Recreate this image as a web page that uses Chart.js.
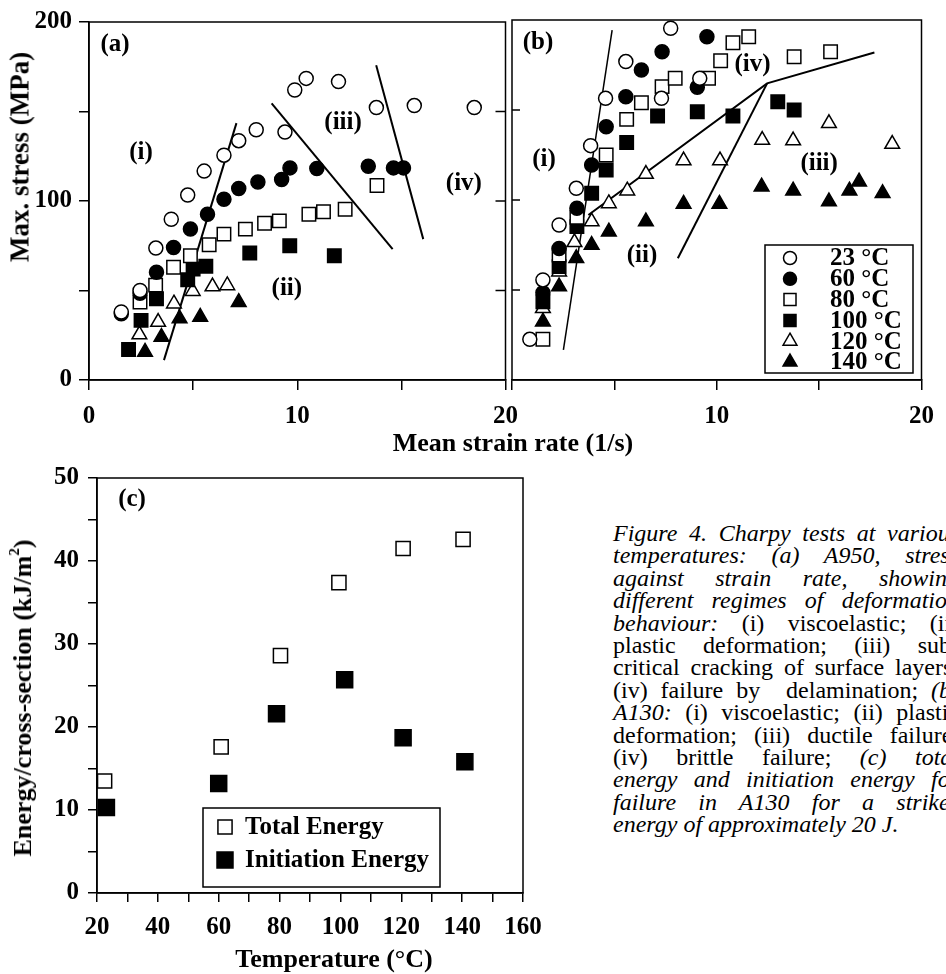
<!DOCTYPE html>
<html><head><meta charset="utf-8">
<script src="https://cdn.jsdelivr.net/npm/chart.js@4.4.0/dist/chart.umd.min.js"></script>
<style>
html,body{margin:0;padding:0;background:#fff;width:946px;height:974px;overflow:hidden;position:relative}
canvas{position:absolute}
.t{position:absolute;font:bold 26px "Liberation Serif","Times New Roman",serif;color:#000;white-space:nowrap;line-height:1}
.rot{transform:translate(-50%,-50%) rotate(-90deg)}
.hc{transform:translate(-50%,-50%)}
.cap{position:absolute;left:613px;top:522px;width:346px;font:24px/22.4px "Liberation Serif","Times New Roman",serif;color:#000}
.cap div{text-align:justify;text-align-last:justify}
.cap div.last{text-align-last:left}
sup{font-size:15px;line-height:0;position:relative;top:-2px}
</style></head>
<body>
<canvas id="ca" width="530" height="430" style="left:0;top:0"></canvas>
<canvas id="cb" width="446" height="430" style="left:500px;top:0"></canvas>
<canvas id="cc" width="560" height="534" style="left:0;top:440px"></canvas>

<div class="t rot" style="left:20px;top:157px;font-size:27px">Max. stress (MPa)</div>
<div class="t hc" style="left:513px;top:443px">Mean strain rate (1/s)</div>
<div class="t rot" style="left:23px;top:698px">Energy/cross-section (kJ/m<sup>2</sup>)</div>
<div class="t hc" style="left:334px;top:959px">Temperature (°C)</div>

<div class="cap">
<div><i>Figure 4. Charpy tests at various</i></div>
<div><i>temperatures: (a) A950, stress</i></div>
<div><i>against strain rate, showing</i></div>
<div><i>different regimes of deformation</i></div>
<div><i>behaviour:</i> (i) viscoelastic; (ii)</div>
<div>plastic deformation; (iii) sub-</div>
<div>critical cracking of surface layers;</div>
<div>(iv) failure by &nbsp;delamination; <i>(b)</i></div>
<div><i>A130:</i> (i) viscoelastic; (ii) plastic</div>
<div>deformation; (iii) ductile failure;</div>
<div>(iv) brittle failure; <i>(c) total</i></div>
<div><i>energy and initiation energy for</i></div>
<div><i>failure in A130 for a striker</i></div>
<div class="last"><i>energy of approximately 20 J.</i></div>
</div>

<script>
const FONT = "'Liberation Serif','Times New Roman',serif";

// ---------- Panel (a): A950, max stress vs mean strain rate ----------
const a23x = [1.55, 2.45, 3.21, 3.95, 4.74, 5.53, 6.48, 7.19, 8.03, 9.41, 9.88, 10.43, 11.98, 13.80, 15.62, 18.50];
const a23y = [38, 50, 73.7, 89.8, 103.3, 116.7, 125.6, 133.7, 139.8, 138.5, 162, 168.5, 166.7, 152.2, 153.3, 152.2];
const a60x = [1.55, 2.45, 3.24, 4.06, 4.87, 5.69, 6.48, 7.19, 8.11, 9.25, 9.65, 10.94, 13.41, 14.62, 15.10];
const a60y = [37, 48.5, 60.2, 74, 84.3, 92.6, 101, 107, 110.6, 112, 118.5, 118.1, 119.4, 118.5, 118.5];
const a80x = [2.45, 3.20, 4.06, 4.87, 5.77, 6.48, 7.51, 8.43, 9.14, 10.56, 11.26, 12.30, 13.83];
const a80y = [43.5, 53, 63, 69.4, 75.6, 81.5, 84.3, 87.6, 88.9, 92.6, 94, 95.4, 108.7];
const a100x = [1.90, 2.50, 3.24, 4.74, 5.00, 5.61, 7.72, 9.64, 11.78];
const a100y = [17, 33.3, 45.4, 56, 62, 63.5, 71, 75, 69.4];
const a120x = [2.42, 3.32, 4.08, 4.98, 5.93, 6.64];
const a120y = [25.4, 32.4, 42.6, 49.6, 52.2, 52.8];
const a140x = [2.69, 3.48, 4.35, 5.34, 7.19];
const a140y = [15.7, 24, 34.3, 35.2, 43.5];
// regime boundary lines
const aL1x = [3.6, 7.08],   aL1y = [11.1, 143.5];
const aL2x = [8.77, 14.58], aL2y = [154.6, 73.1];
const aL3x = [13.79, 16.05], aL3y = [175.9, 78.7];
const aRegions = ['(i)', '(ii)', '(iii)', '(iv)'];
const aRegX = [2.5, 9.5, 12.2, 18.0];
const aRegY = [127, 51, 144, 110];

// ---------- Panel (b): A130 ----------
const b23x = [0.87, 1.51, 2.30, 3.14, 3.84, 4.57, 5.56, 7.30, 7.75, 9.17];
const b23y = [22.6, 55.6, 86.1, 106.5, 130.2, 156.5, 176.9, 156.5, 195.4, 167.6];
const b60x = [1.51, 2.30, 3.17, 3.89, 4.60, 5.56, 6.32, 7.33, 9.05, 9.52];
const b60y = [48.5, 73, 95.4, 119.4, 140.7, 157.4, 172.2, 182.4, 162.6, 190.7];
const b80x = [1.51, 2.30, 3.17, 4.60, 5.60, 6.32, 7.33, 7.97, 9.60, 10.19, 10.79, 11.56, 13.78, 15.56];
const b80y = [22.6, 69.4, 90.4, 125, 144.8, 154, 163, 167.6, 167.6, 177.4, 187.4, 190.7, 179.6, 182.4];
const b100x = [1.51, 2.30, 3.17, 3.89, 4.60, 5.60, 7.11, 9.05, 10.79, 12.98, 13.78];
const b100y = [43.5, 63, 85.2, 103.7, 116.7, 131.9, 146.7, 149, 146.7, 154.6, 150];
const b120x = [1.51, 2.30, 3.05, 3.89, 4.73, 5.63, 6.54, 8.38, 10.16, 12.22, 13.73, 15.48, 18.57];
const b120y = [39.8, 60.2, 76.5, 88, 98.1, 105.2, 114.4, 121.9, 121.9, 133.3, 133, 142.6, 131.1];
const b140x = [1.51, 2.30, 3.14, 3.89, 4.73, 6.54, 8.38, 10.13, 12.19, 13.73, 15.48, 16.48, 16.95, 18.10];
const b140y = [32.4, 51.9, 67.6, 75, 82.4, 88, 97.8, 97.8, 107.4, 105.2, 99.1, 105.2, 110.2, 103.7];
const bLAx = [2.51, 4.89], bLAy = [16.7, 194.4];
const bLBx = [3.73, 12.46, 17.7], bLBy = [91.7, 164.8, 181.9];
const bLCx = [8.1, 12.46], bLCy = [67.6, 164.8];
const bRegions = ['(i)', '(ii)', '(iii)', '(iv)'];
const bRegX = [1.56, 6.35, 15.0, 11.75];
const bRegY = [122.6, 69.4, 120.4, 175];
const tempLabels = ['23 °C', '60 °C', '80 °C', '100 °C', '120 °C', '140 °C'];

// ---------- Panel (c): energies vs temperature ----------
const cTotX = [22.5, 60.8, 80.3, 99.5, 120.6, 140.3];
const cTotY = [13.5, 17.6, 28.6, 37.4, 41.5, 42.6];
const cIniX = [23.1, 60.0, 79.0, 101.4, 120.6, 140.9];
const cIniY = [10.3, 13.2, 21.6, 25.7, 18.7, 15.8];
const cLabels = ['Total Energy', 'Initiation Energy'];

// ---------- styles ----------
const STY = [
  {shape: 'circle',   r: 7,   fill: '#fff'},
  {shape: 'circle',   r: 7,   fill: '#000'},
  {shape: 'rect',     r: 9.5, fill: '#fff'},
  {shape: 'rect',     r: 9.5, fill: '#000'},
  {shape: 'triangle', r: 8.5, fill: '#fff'},
  {shape: 'triangle', r: 8.5, fill: '#000'}
];

function pts(xs, ys) { return xs.map((x, i) => ({x: x, y: ys[i]})); }
function series(label, xs, ys, st) {
  return {label: label, data: pts(xs, ys), showLine: false, pointStyle: st.shape,
    pointRadius: st.r, pointHoverRadius: st.r, pointBackgroundColor: st.fill,
    pointBorderColor: '#000', pointBorderWidth: 1.5, order: 0, _st: st};
}
function seg(xs, ys, w) {
  return {label: '', data: pts(xs, ys), showLine: true, borderColor: '#000', borderWidth: w,
    pointRadius: 0, pointHoverRadius: 0, fill: false, tension: 0, order: 1};
}

function drawSym(ctx, st, x, y) {
  const r = st.r;
  ctx.beginPath();
  if (st.shape === 'circle') ctx.arc(x, y, r, 0, Math.PI * 2);
  else if (st.shape === 'rect') { const s = r * Math.SQRT1_2; ctx.rect(x - s, y - s, 2 * s, 2 * s); }
  else {
    ctx.moveTo(x, y - r);
    ctx.lineTo(x + r * Math.sin(2 * Math.PI / 3), y - r * Math.cos(2 * Math.PI / 3));
    ctx.lineTo(x + r * Math.sin(4 * Math.PI / 3), y - r * Math.cos(4 * Math.PI / 3));
    ctx.closePath();
  }
  ctx.fillStyle = st.fill; ctx.fill();
  ctx.lineWidth = 1.5; ctx.strokeStyle = '#000'; ctx.stroke();
}

const deco = {
  id: 'deco',
  afterDatasetsDraw(chart, args, o) {
    const ctx = chart.ctx, a = chart.chartArea;
    ctx.save();
    ctx.strokeStyle = '#000'; ctx.lineWidth = 1.5;
    ctx.strokeRect(a.left, a.top, a.right - a.left, a.bottom - a.top);
    if (o.inner) {
      const ys = chart.scales.y;
      o.innerVals.forEach(v => {
        const py = ys.getPixelForValue(v);
        ctx.beginPath();
        if (o.inner === 'right') { ctx.moveTo(a.right, py); ctx.lineTo(a.right - 10, py); }
        else { ctx.moveTo(a.left, py); ctx.lineTo(a.left + 8, py); }
        ctx.stroke();
      });
    }
    ctx.fillStyle = '#000';
    ctx.font = 'bold 25px ' + FONT;
    ctx.textAlign = 'center'; ctx.textBaseline = 'middle';
    if (o.panel) ctx.fillText(o.panel.text, a.left + o.panel.dx, a.top + o.panel.dy);
    if (o.regions) {
      const xs = chart.scales.x, ys = chart.scales.y;
      o.regions.t.forEach((t, i) => {
        ctx.fillText(t, xs.getPixelForValue(o.regions.x[i]), ys.getPixelForValue(o.regions.y[i]));
      });
    }
    if (o.legend) {
      const L = o.legend;
      ctx.lineWidth = 1.5;
      ctx.strokeRect(L.x0, L.y0, L.x1 - L.x0, L.y1 - L.y0);
      const sets = chart.data.datasets.filter(d => d._st);
      ctx.textAlign = 'left';
      sets.forEach((d, i) => {
        const y = L.rowY + i * L.pitch;
        drawSym(ctx, L.symR ? Object.assign({}, d._st, {r: L.symR[i]}) : d._st, L.symX, y);
        ctx.fillStyle = '#000';
        ctx.font = 'bold ' + L.fs + 'px ' + FONT;
        ctx.fillText(d.label, L.textX, y + 1);
      });
    }
    ctx.restore();
  }
};

function axisBase(extra) {
  return Object.assign({
    type: 'linear',
    ticks: {color: '#000', font: {family: FONT, size: 25, weight: 'bold'}, autoSkip: false, maxRotation: 0},
    grid: {drawOnChartArea: false, drawTicks: true, color: '#000', lineWidth: 1.5, tickLength: 10},
    border: {display: true, color: '#000', width: 1.5}
  }, extra);
}
function merge(base, ticks, grid) {
  base.ticks = Object.assign(base.ticks, ticks || {});
  base.grid = Object.assign(base.grid, grid || {});
  return base;
}
const common = {
  responsive: false, animation: false, devicePixelRatio: 1, events: [],
  plugins: {legend: {display: false}, tooltip: {enabled: false}}
};

// Panel (a)
new Chart(document.getElementById('ca'), {
  type: 'scatter',
  data: {datasets: [
    seg(aL1x, aL1y, 2), seg(aL2x, aL2y, 2), seg(aL3x, aL3y, 2),
    series('23 °C', a23x, a23y, STY[0]), series('60 °C', a60x, a60y, STY[1]),
    series('80 °C', a80x, a80y, STY[2]), series('100 °C', a100x, a100y, STY[3]),
    series('120 °C', a120x, a120y, STY[4]), series('140 °C', a140x, a140y, STY[5])
  ]},
  options: Object.assign({}, common, {
    layout: {padding: {top: 20, right: 18, bottom: 0, left: 0}},
    scales: {
      x: merge(axisBase({min: 0, max: 20, position: 'bottom', afterFit: s => { s.height = 50; }}),
        {stepSize: 5, padding: 12, callback: v => (v % 10 === 0 ? String(v) : '')}),
      y: merge(axisBase({min: 0, max: 200, afterFit: s => { s.width = 89; }}),
        {stepSize: 50, padding: 7, callback: v => (v % 100 === 0 ? String(v) : '')})
    },
    plugins: Object.assign({}, common.plugins, {
      deco: {panel: {text: '(a)', dx: 26, dy: 23}, inner: 'right', innerVals: [50, 100, 150],
        regions: {t: aRegions, x: aRegX, y: aRegY}}
    })
  }),
  plugins: [deco]
});

// Panel (b)
new Chart(document.getElementById('cb'), {
  type: 'scatter',
  data: {datasets: [
    seg(bLAx, bLAy, 1.5), seg(bLBx, bLBy, 2), seg(bLCx, bLCy, 2),
    series(tempLabels[0], b23x, b23y, STY[0]), series(tempLabels[1], b60x, b60y, STY[1]),
    series(tempLabels[2], b80x, b80y, STY[2]), series(tempLabels[3], b100x, b100y, STY[3]),
    series(tempLabels[4], b120x, b120y, STY[4]), series(tempLabels[5], b140x, b140y, STY[5])
  ]},
  options: Object.assign({}, common, {
    layout: {padding: {top: 20, right: 14, bottom: 0, left: 12}},
    scales: {
      x: merge(axisBase({min: 0, max: 20, position: 'bottom', afterFit: s => { s.height = 50; }}),
        {stepSize: 5, padding: 12, callback: v => (v === 10 || v === 20 ? String(v) : '')}),
      y: {type: 'linear', min: 0, max: 200, display: false}
    },
    plugins: Object.assign({}, common.plugins, {
      deco: {panel: {text: '(b)', dx: 26, dy: 23}, inner: 'left', innerVals: [50, 100, 150],
        regions: {t: bRegions, x: bRegX, y: bRegY},
        legend: {x0: 265, y0: 245, x1: 413, y1: 373, symX: 290, textX: 330, rowY: 258, pitch: 20.8, fs: 25,
          symR: [6.5, 6.5, 8.5, 8.5, 8, 8]}}
    })
  }),
  plugins: [deco]
});

// Panel (c)
new Chart(document.getElementById('cc'), {
  type: 'scatter',
  data: {datasets: [
    series(cLabels[0], cTotX, cTotY, {shape: 'rect', r: 10, fill: '#fff'}),
    series(cLabels[1], cIniX, cIniY, {shape: 'rect', r: 11.3, fill: '#000'})
  ]},
  options: Object.assign({}, common, {
    layout: {padding: {top: 38, right: 37, bottom: 0, left: 0}},
    scales: {
      x: merge(axisBase({min: 20, max: 160, position: 'bottom', afterFit: s => { s.height = 81; }}),
        {stepSize: 10, padding: 11, callback: v => (v % 20 === 0 ? String(v) : '')}, {tickLength: 9}),
      y: merge(axisBase({min: 0, max: 50, afterFit: s => { s.width = 97; }}),
        {stepSize: 5, padding: 9, callback: v => (v % 10 === 0 ? String(v) : '')}, {tickLength: 9})
    },
    plugins: Object.assign({}, common.plugins, {
      deco: {panel: {text: '(c)', dx: 35, dy: 22},
        legend: {x0: 203, y0: 368, x1: 440, y1: 447, symX: 225, textX: 245, rowY: 387, pitch: 33, fs: 25,
          symR: [10, 11.3]}}
    })
  }),
  plugins: [deco]
});
</script>
</body></html>
